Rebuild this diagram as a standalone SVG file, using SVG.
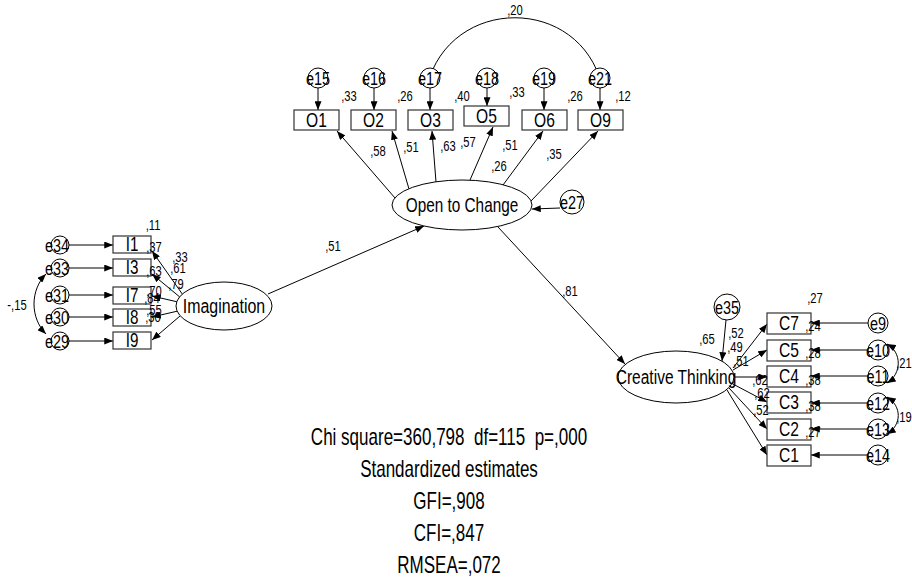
<svg xmlns="http://www.w3.org/2000/svg" width="912" height="580" viewBox="0 0 912 580">
<style>
text{font-family:"Liberation Sans",Arial,sans-serif;fill:#000;text-anchor:middle}
.n{font-size:14px}
.v{font-size:21px}
.b{font-size:20px}
.e{font-size:19px}
.f{font-size:23px}
rect{fill:#fff;stroke:#333;stroke-width:1.2}
circle,ellipse{fill:#fff;stroke:#000;stroke-width:1}
.c line,.c path{stroke:#000;stroke-width:1;fill:none;marker-end:url(#ah)}
.c path.cov{marker-start:url(#ah)}
</style>
<defs>
<marker id="ah" viewBox="0 0 10 8" refX="10" refY="4" markerWidth="9" markerHeight="7" markerUnits="userSpaceOnUse" orient="auto-start-reverse"><path d="M0,0 L10,4 L0,8 z" fill="#000"/></marker>
</defs>
<rect x="0" y="0" width="912" height="580" style="fill:#fff;stroke:none"/>

<g class="c" id="connectors">
<line x1="318" y1="88" x2="318" y2="110"/>
<line x1="374" y1="88" x2="374" y2="110"/>
<line x1="430" y1="88" x2="430" y2="110"/>
<line x1="487" y1="88" x2="487" y2="106"/>
<line x1="544" y1="88" x2="544" y2="110"/>
<line x1="600" y1="88" x2="600" y2="110"/>
<path class="cov" d="M427,86 C450,-5 580,-5 602,86"/>
<line x1="395" y1="198" x2="337" y2="131"/>
<line x1="409" y1="189" x2="392" y2="131"/>
<line x1="436" y1="182" x2="432" y2="131"/>
<line x1="470" y1="180" x2="493" y2="127"/>
<line x1="503" y1="185" x2="543" y2="131"/>
<line x1="531" y1="201" x2="598" y2="131"/>
<line x1="560" y1="208" x2="532" y2="209"/>
<line x1="69" y1="245" x2="113" y2="245"/>
<line x1="69" y1="268" x2="113" y2="268"/>
<line x1="69" y1="295" x2="113" y2="295"/>
<line x1="69" y1="317" x2="113" y2="317"/>
<line x1="69" y1="341" x2="113" y2="341"/>
<path class="cov" d="M46,274 C30,290 30,318 46,334"/>
<line x1="183" y1="295" x2="152" y2="251"/>
<line x1="181" y1="298" x2="152" y2="274"/>
<line x1="178" y1="302" x2="152" y2="296"/>
<line x1="178" y1="311" x2="152" y2="317"/>
<line x1="180" y1="316" x2="152" y2="340"/>
<line x1="268" y1="294" x2="424" y2="226"/>
<line x1="498" y1="227" x2="625" y2="364"/>
<line x1="726" y1="320" x2="722" y2="361"/>
<line x1="733" y1="368" x2="767" y2="324"/>
<line x1="733" y1="370" x2="767" y2="350"/>
<line x1="734" y1="377" x2="767" y2="377"/>
<line x1="731" y1="383" x2="767" y2="402"/>
<line x1="729" y1="388" x2="767" y2="429"/>
<line x1="727" y1="390" x2="767" y2="455"/>
<line x1="868" y1="323" x2="811" y2="323"/>
<line x1="868" y1="350" x2="811" y2="350"/>
<line x1="868" y1="376" x2="811" y2="376"/>
<line x1="868" y1="403" x2="811" y2="403"/>
<line x1="868" y1="429" x2="811" y2="429"/>
<line x1="868" y1="455" x2="811" y2="455"/>
<path class="cov" d="M887,344 C902,352 902,374 887,383"/>
<path class="cov" d="M887,397 C902,406 902,425 887,434"/>
</g>

<g id="O1"><rect x="294" y="110" width="45" height="20"/><text class="b" transform="translate(316.5,127) scale(.78,1)">O1</text></g>
<g id="O2"><rect x="351" y="110" width="45" height="20"/><text class="b" transform="translate(373.5,127) scale(.78,1)">O2</text></g>
<g id="O3"><rect x="408" y="110" width="45" height="20"/><text class="b" transform="translate(430.5,127) scale(.78,1)">O3</text></g>
<g id="O5"><rect x="464" y="106" width="45" height="20"/><text class="b" transform="translate(486.5,123) scale(.78,1)">O5</text></g>
<g id="O6"><rect x="522" y="110" width="45" height="20"/><text class="b" transform="translate(544.5,127) scale(.78,1)">O6</text></g>
<g id="O9"><rect x="578" y="110" width="45" height="20"/><text class="b" transform="translate(600.5,127) scale(.78,1)">O9</text></g>

<g id="e15"><circle cx="318" cy="78" r="10"/><text class="e" transform="translate(318,85) scale(.76,1)">e15</text></g>
<g id="e16"><circle cx="374" cy="78" r="10"/><text class="e" transform="translate(374,85) scale(.76,1)">e16</text></g>
<g id="e17"><circle cx="430" cy="78" r="10"/><text class="e" transform="translate(430,85) scale(.76,1)">e17</text></g>
<g id="e18"><circle cx="487" cy="78" r="10"/><text class="e" transform="translate(487,85) scale(.76,1)">e18</text></g>
<g id="e19"><circle cx="544" cy="78" r="10"/><text class="e" transform="translate(544,85) scale(.76,1)">e19</text></g>
<g id="e21"><circle cx="600" cy="78" r="10"/><text class="e" transform="translate(600,85) scale(.76,1)">e21</text></g>

<g id="OpenToChange"><ellipse cx="462" cy="205" rx="70" ry="25"/><text class="v" transform="translate(462,212) scale(.73,1)">Open to Change</text></g>
<g id="e27"><circle cx="572" cy="202" r="12"/><text class="e" transform="translate(572,209) scale(.76,1)">e27</text></g>

<g id="Imagination"><ellipse cx="224" cy="306" rx="48" ry="24"/><text class="v" transform="translate(224,313) scale(.76,1)">Imagination</text></g>
<g id="I1"><rect x="113" y="236" width="38" height="17"/><text class="b" transform="translate(132,251) scale(.76,1)">I1</text></g>
<g id="I3"><rect x="113" y="259" width="38" height="17"/><text class="b" transform="translate(132,274) scale(.76,1)">I3</text></g>
<g id="I7"><rect x="113" y="287" width="38" height="17"/><text class="b" transform="translate(132,302) scale(.76,1)">I7</text></g>
<g id="I8"><rect x="113" y="309" width="38" height="17"/><text class="b" transform="translate(132,324) scale(.76,1)">I8</text></g>
<g id="I9"><rect x="113" y="332" width="38" height="17"/><text class="b" transform="translate(132,347) scale(.76,1)">I9</text></g>
<g id="e34"><circle cx="60" cy="245" r="9"/><text class="e" transform="translate(57,252) scale(.76,1)">e34</text></g>
<g id="e33"><circle cx="60" cy="268" r="9"/><text class="e" transform="translate(57,275) scale(.76,1)">e33</text></g>
<g id="e31"><circle cx="60" cy="295" r="9"/><text class="e" transform="translate(57,302) scale(.76,1)">e31</text></g>
<g id="e30"><circle cx="60" cy="317" r="9"/><text class="e" transform="translate(57,324) scale(.76,1)">e30</text></g>
<g id="e29"><circle cx="60" cy="341" r="9"/><text class="e" transform="translate(57,348) scale(.76,1)">e29</text></g>

<g id="CreativeThinking"><ellipse cx="676" cy="377" rx="58" ry="26"/><text class="v" transform="translate(676,384) scale(.74,1)">Creative Thinking</text></g>
<g id="e35"><circle cx="727" cy="307" r="13"/><text class="e" transform="translate(727,314) scale(.76,1)">e35</text></g>
<g id="C7"><rect x="767" y="313" width="44" height="21"/><text class="b" transform="translate(789,330) scale(.78,1)">C7</text></g>
<g id="C5"><rect x="767" y="340" width="44" height="21"/><text class="b" transform="translate(789,357) scale(.78,1)">C5</text></g>
<g id="C4"><rect x="767" y="366" width="44" height="21"/><text class="b" transform="translate(789,383) scale(.78,1)">C4</text></g>
<g id="C3"><rect x="767" y="392" width="44" height="21"/><text class="b" transform="translate(789,409) scale(.78,1)">C3</text></g>
<g id="C2"><rect x="767" y="419" width="44" height="21"/><text class="b" transform="translate(789,436) scale(.78,1)">C2</text></g>
<g id="C1"><rect x="767" y="445" width="44" height="21"/><text class="b" transform="translate(789,462) scale(.78,1)">C1</text></g>
<g id="e9"><circle cx="878" cy="323" r="10"/><text class="e" transform="translate(878,330) scale(.76,1)">e9</text></g>
<g id="e10"><circle cx="878" cy="350" r="10"/><text class="e" transform="translate(878,357) scale(.76,1)">e10</text></g>
<g id="e11"><circle cx="878" cy="376" r="10"/><text class="e" transform="translate(878,383) scale(.76,1)">e11</text></g>
<g id="e12"><circle cx="878" cy="403" r="10"/><text class="e" transform="translate(878,410) scale(.76,1)">e12</text></g>
<g id="e13"><circle cx="878" cy="429" r="10"/><text class="e" transform="translate(878,436) scale(.76,1)">e13</text></g>
<g id="e14"><circle cx="878" cy="455" r="10"/><text class="e" transform="translate(878,462) scale(.76,1)">e14</text></g>

<g id="labels">
<text class="n" transform="translate(515,15) scale(.8,1)">,20</text>
<text class="n" transform="translate(349,101) scale(.8,1)">,33</text>
<text class="n" transform="translate(405,101) scale(.8,1)">,26</text>
<text class="n" transform="translate(462,101) scale(.8,1)">,40</text>
<text class="n" transform="translate(517,97) scale(.8,1)">,33</text>
<text class="n" transform="translate(575,101) scale(.8,1)">,26</text>
<text class="n" transform="translate(623,101) scale(.8,1)">,12</text>
<text class="n" transform="translate(378,156) scale(.8,1)">,58</text>
<text class="n" transform="translate(411,152) scale(.8,1)">,51</text>
<text class="n" transform="translate(448,151) scale(.8,1)">,63</text>
<text class="n" transform="translate(468,147) scale(.8,1)">,57</text>
<text class="n" transform="translate(510,150) scale(.8,1)">,51</text>
<text class="n" transform="translate(499,171) scale(.8,1)">,26</text>
<text class="n" transform="translate(554,159) scale(.8,1)">,35</text>
<text class="n" transform="translate(333,251) scale(.8,1)">,51</text>
<text class="n" transform="translate(570,296) scale(.8,1)">,81</text>
<text class="n" transform="translate(17,310) scale(.8,1)">-,15</text>
<text class="n" transform="translate(153,230) scale(.8,1)">,11</text>
<text class="n" transform="translate(154,252) scale(.8,1)">,37</text>
<text class="n" transform="translate(180,262) scale(.8,1)">,33</text>
<text class="n" transform="translate(178,273) scale(.8,1)">,61</text>
<text class="n" transform="translate(176,289) scale(.8,1)">,79</text>
<text class="n" transform="translate(154,276) scale(.8,1)">,63</text>
<text class="n" transform="translate(154,296) scale(.8,1)">,70</text>
<text class="n" transform="translate(152,303) scale(.8,1)">,84</text>
<text class="n" transform="translate(154,315) scale(.8,1)">,55</text>
<text class="n" transform="translate(153,322) scale(.8,1)">,30</text>
<text class="n" transform="translate(707,344) scale(.8,1)">,65</text>
<text class="n" transform="translate(736,338) scale(.8,1)">,52</text>
<text class="n" transform="translate(735,352) scale(.8,1)">,49</text>
<text class="n" transform="translate(741,366) scale(.8,1)">,51</text>
<text class="n" transform="translate(760,385) scale(.8,1)">,62</text>
<text class="n" transform="translate(762,398) scale(.8,1)">,62</text>
<text class="n" transform="translate(761,415) scale(.8,1)">,52</text>
<text class="n" transform="translate(815,303) scale(.8,1)">,27</text>
<text class="n" transform="translate(813,331) scale(.8,1)">,24</text>
<text class="n" transform="translate(813,358) scale(.8,1)">,28</text>
<text class="n" transform="translate(813,385) scale(.8,1)">,38</text>
<text class="n" transform="translate(813,411) scale(.8,1)">,38</text>
<text class="n" transform="translate(813,437) scale(.8,1)">,27</text>
<text class="n" transform="translate(904,368) scale(.8,1)">,21</text>
<text class="n" transform="translate(904,422) scale(.8,1)">,19</text>
</g>

<g id="fit">
<text class="f" transform="translate(449,445) scale(.74,1)" xml:space="preserve">Chi square=360,798  df=115  p=,000</text>
<text class="f" transform="translate(449,477) scale(.74,1)">Standardized estimates</text>
<text class="f" transform="translate(449,509) scale(.74,1)">GFI=,908</text>
<text class="f" transform="translate(449,541) scale(.74,1)">CFI=,847</text>
<text class="f" transform="translate(449,573) scale(.74,1)">RMSEA=,072</text>
</g>
</svg>
